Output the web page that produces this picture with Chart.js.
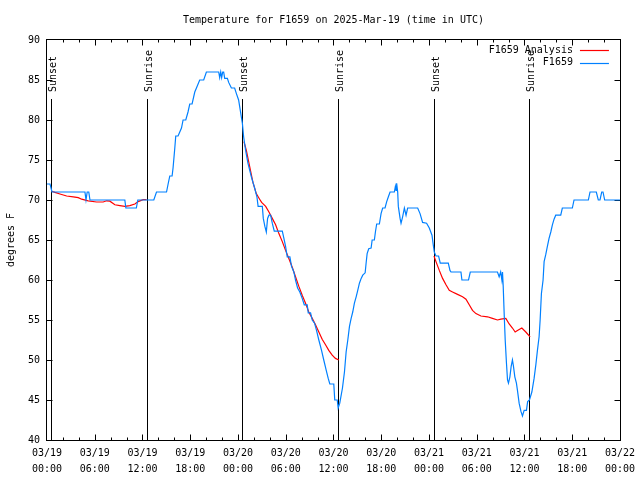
<!DOCTYPE html>
<html><head><meta charset="utf-8">
<script src="https://cdn.jsdelivr.net/npm/chart.js@4"></script>
<style>html,body{margin:0;padding:0;background:#fff;}#wrap{width:640px;height:480px;}</style>
</head><body><div id="wrap"><canvas id="c" width="640" height="480"></canvas></div>
<script>
const titleText = "Temperature for F1659 on 2025-Mar-19 (time in UTC)";
const yAxisTitle = "degrees F";
const dateLabels = ["03/19","03/19","03/19","03/19","03/20","03/20","03/20","03/20","03/21","03/21","03/21","03/21","03/22"];
const timeLabels = ["00:00","06:00","12:00","18:00","00:00","06:00","12:00","18:00","00:00","06:00","12:00","18:00","00:00"];
const sunTimes = [0.54, 12.54, 24.5, 36.54, 48.58, 60.63];
const sunLabels = ["Sunset","Sunrise","Sunset","Sunrise","Sunset","Sunrise"];
const obsLabel = "F1659";
const anaLabel = "F1659 Analysis";
// hours since 03/19 00:00 UTC
const obsTimes = [0.0,0.38,0.63,4.77,4.90,5.05,5.25,5.40,9.78,9.91,11.23,11.41,13.42,13.76,15.02,15.22,15.43,15.72,15.84,16.06,16.18,16.47,16.90,17.10,17.44,17.72,17.94,18.23,18.57,18.78,19.19,19.69,20.03,21.58,21.70,21.83,21.95,22.08,22.20,22.33,22.67,22.83,23.17,23.58,23.80,24.08,24.21,24.42,24.55,24.71,24.96,25.25,25.68,26.09,26.38,26.53,27.06,27.18,27.38,27.56,27.72,27.89,28.10,28.31,28.56,29.57,29.77,29.98,30.19,30.52,30.73,31.02,31.23,31.49,31.77,32.07,32.33,32.70,32.83,33.12,33.33,33.62,33.87,34.16,34.50,34.78,35.09,35.34,35.54,36.04,36.16,36.47,36.59,36.79,37.13,37.38,37.59,37.80,38.01,38.22,38.42,38.63,38.85,39.05,39.26,39.48,39.68,39.98,40.10,40.23,40.43,40.73,40.86,41.14,41.27,41.43,41.77,41.98,42.18,42.48,42.69,42.90,43.11,43.65,43.78,43.86,43.94,44.07,44.15,44.37,44.49,44.69,44.91,45.12,45.32,46.58,46.88,47.20,47.70,48.04,48.38,48.54,48.67,48.88,49.21,49.42,50.43,50.64,50.77,52.02,52.14,52.97,53.19,56.61,56.82,57.01,57.16,57.24,57.33,57.45,57.58,57.74,57.87,57.99,58.17,58.33,58.49,58.62,58.79,58.99,59.12,59.33,59.55,59.75,59.96,60.25,60.40,60.63,60.93,61.21,61.43,61.63,61.84,61.97,62.13,62.34,62.47,62.68,62.88,63.09,63.31,63.51,63.72,63.93,64.56,64.76,66.02,66.23,68.03,68.24,69.03,69.28,69.49,69.71,69.87,70.08,72.0];
const obsTemps = [72,72,71,71,70,71,71,70,70,69,69,70,70,71,71,72,73,73,74,76.5,78,78,79,80,80,81,82,82,83.5,84,85,85,86,86,85.3,86,85.3,86,86,85.2,85.2,84.7,84,84,83.3,82.5,81.7,80.4,79.6,77.9,76.2,74.6,72.9,71.5,70.4,69.2,69.2,67.7,66.7,66,67.7,68.1,68.1,67.1,66.1,66.1,65.2,64.2,62.9,62.9,61.7,61,60,59,58.5,57.7,56.9,56.9,55.9,55.9,55,54.6,53.7,52.5,51.2,50,48.7,47.7,47,47,45,45,44,44.6,46.5,48.5,51,52.5,54.2,55.2,56,57.1,57.9,58.7,59.6,60.2,60.6,60.9,62.1,63.3,63.9,64,65,65,66,67,67,68.3,69,69,69.8,70.4,71,71,71.7,71.2,72.1,71,69.2,67.7,67.1,67.9,69,68.1,69,69,68.3,67.2,67.1,66.5,65.6,64.4,63.5,63,63,62.1,62.1,61.2,61,61,60,60,61,61,60.4,61,60,61,59.2,55.8,52.5,49.6,47.5,47.1,47.9,49.2,50,49.2,47.9,47.1,46.2,44.6,43.6,43,43.7,43.7,44.8,45,46,47.7,49.4,51.2,52.9,55,58.3,60,62.3,63.2,64.2,65.2,66,66.9,67.6,68.1,68.1,69,69,70,70,71,71,70,70,71,71,70,70];
const anaTimes = [0.59,1.00,1.63,2.47,3.30,3.93,4.35,5.18,6.23,7.06,7.49,7.90,8.53,9.16,9.78,10.41,11.04,11.45,12.08,12.51,18.5,24.75,25.05,25.38,25.88,26.30,26.72,26.97,27.48,27.89,28.31,28.73,29.14,29.57,29.98,30.39,30.82,31.23,31.65,32.07,32.49,32.90,33.33,33.74,34.16,34.58,35.00,35.41,35.84,36.25,36.67,42.5,48.63,48.88,49.30,49.71,50.14,50.55,50.96,51.59,52.22,52.65,53.06,53.47,53.90,54.53,55.36,55.98,56.61,57.04,57.66,58.08,58.49,58.83,59.12,59.67,60.17,60.71];
const anaTemps = [71.1,70.95,70.75,70.5,70.4,70.3,70.1,69.9,69.75,69.75,69.9,69.85,69.4,69.3,69.2,69.3,69.5,69.8,70.05,70.05,null,77.3,76.2,74.6,72.2,70.8,70.1,69.7,69.2,68.5,67.7,66.9,65.8,64.8,63.7,62.7,61.6,60.4,59.2,58.1,57.1,56,55.2,54.4,53.5,52.6,51.9,51.2,50.6,50.2,50,null,63,62.3,61.2,60.2,59.4,58.7,58.5,58.2,57.9,57.6,56.9,56.2,55.8,55.5,55.4,55.2,55,55.1,55.2,54.5,54,53.5,53.7,54,53.5,52.9];

const FONT = "'DejaVu Sans Mono', 'Liberation Mono', monospace";
const fontCss = "10px " + FONT;

const decor = {
  id: 'decor',
  beforeDatasetsDraw(chart) {
    const ctx = chart.ctx, a = chart.chartArea, xs = chart.scales.x, ys = chart.scales.y;
    ctx.save();
    ctx.strokeStyle = '#000'; ctx.lineWidth = 1;
    const L = Math.round(a.left) - 0.5, R = Math.round(a.right) + 0.5, T = Math.round(a.top) - 0.5, B = Math.round(a.bottom) + 0.5;
    ctx.strokeRect(L, T, R - L, B - T);
    ctx.beginPath();
    for (let v = 2; v < 72; v += 2) {
      const len = v % 6 === 0 ? 6 : 3;
      const x = Math.round(xs.getPixelForValue(v)) + 0.5;
      ctx.moveTo(x, B); ctx.lineTo(x, B - len);
      ctx.moveTo(x, T); ctx.lineTo(x, T + len);
    }
    for (let v = 45; v < 90; v += 5) {
      const y = Math.round(ys.getPixelForValue(v)) + 0.5;
      ctx.moveTo(L, y); ctx.lineTo(L + 6, y);
      ctx.moveTo(R, y); ctx.lineTo(R - 6, y);
    }
    ctx.stroke();
    // sun lines
    ctx.font = fontCss; ctx.fillStyle = '#000';
    sunTimes.forEach((t, i) => {
      const x = Math.round(xs.getPixelForValue(t)) + 0.5;
      ctx.beginPath(); ctx.moveTo(x, a.top + 59); ctx.lineTo(x, B); ctx.stroke();
      ctx.save();
      ctx.translate(x + 1.5, a.top + 52);
      ctx.rotate(-Math.PI / 2);
      ctx.textAlign = 'left'; ctx.textBaseline = 'middle';
      ctx.fillText(sunLabels[i], 0, 0);
      ctx.restore();
    });
    ctx.restore();
  },
  afterDraw(chart) {
    const ctx = chart.ctx, a = chart.chartArea;
    ctx.save();
    ctx.font = fontCss; ctx.fillStyle = '#000';
    ctx.textAlign = 'center'; ctx.textBaseline = 'middle';
    ctx.fillText(titleText, (a.left + a.right) / 2, 20);
    // legend
    const order = [0, 1];
    order.forEach((di, row) => {
      const ds = chart.data.datasets[di];
      const y = a.top + 10 + row * 12.7;
      ctx.textAlign = 'right'; ctx.fillStyle = '#000';
      ctx.fillText(ds.label, a.right - 47, y);
      ctx.strokeStyle = ds.borderColor; ctx.lineWidth = 1.2;
      ctx.beginPath(); ctx.moveTo(a.right - 40, Math.round(y) + 0.5); ctx.lineTo(a.right - 11, Math.round(y) + 0.5); ctx.stroke();
    });
    ctx.restore();
  }
};

const tickFont = { family: FONT, size: 10, lineHeight: 1.6 };

new Chart(document.getElementById('c'), {
  type: 'line',
  data: {
    datasets: [
      { label: anaLabel, data: anaTimes.map((t, i) => ({ x: t, y: anaTemps[i] })), borderColor: '#ff0000', borderWidth: 1.2, pointRadius: 0, tension: 0, spanGaps: false, fill: false, order: 2 },
      { label: obsLabel, data: obsTimes.map((t, i) => ({ x: t, y: obsTemps[i] })), borderColor: '#0080ff', borderWidth: 1.2, pointRadius: 0, tension: 0, fill: false, order: 1 }
    ]
  },
  options: {
    responsive: false, animation: false, devicePixelRatio: 1,
    layout: { padding: { top: 40, right: 19, left: 0, bottom: 0 } },
    plugins: { legend: { display: false }, tooltip: { enabled: false }, title: { display: false } },
    scales: {
      x: {
        type: 'linear', min: 0, max: 72,
        grid: { display: false, drawTicks: false }, border: { display: false },
        ticks: { stepSize: 6, autoSkip: false, maxRotation: 0, padding: 5, color: '#000', font: tickFont,
          callback: (v) => { const i = Math.round(v / 6); return [dateLabels[i], timeLabels[i]]; } },
        afterFit: (s) => { s.height = 40; }
      },
      y: {
        min: 40, max: 90,
        grid: { display: false, drawTicks: false }, border: { display: false },
        ticks: { stepSize: 5, padding: 7, color: '#000', font: { family: FONT, size: 10 } },
        title: { display: true, text: yAxisTitle, color: '#000', font: { family: FONT, size: 10 }, padding: { top: 5, bottom: 0 } },
        afterFit: (s) => { s.width = 47; }
      }
    }
  },
  plugins: [decor]
});
</script></body></html>
